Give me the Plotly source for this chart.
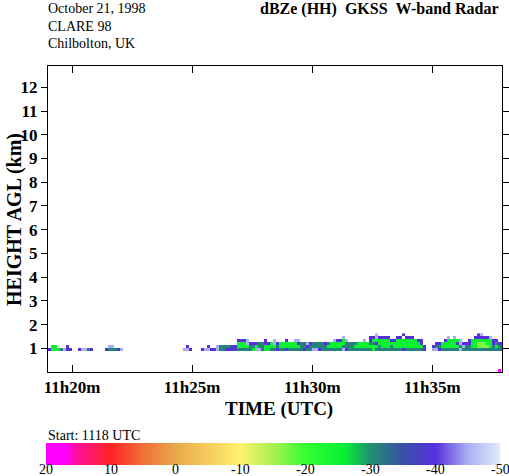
import numpy as np
import plotly.graph_objects as go

# ---------------- data ----------------
start_min = 19.0        # minutes after 11h00 of first time bin
step_min = 0.125        # time bin width (min)
n_cols = 152
height_step = 0.125     # km per range gate row

# code -> dBZe
code_values = {"L": -45, "V": -40, "B": -37, "T": -31, "G": -25, "Y": -17, "M": 20}

row_surface = ["          "] * 15 + ["M "]                        # 0.000-0.125 km
row_r0 = ["VGGGTLVV  ", "VLLTV    V", "TTTVL     ", "          ", "     LLV  ",
          " VLLVVLTTV", "VVBTTTTTGL", "LTGGTTVTTV", "TTTTTVTTLL", "VTTTTTTTLV",
          "TTTTTTTTGT", "TTTTTTTTVT", "TTTTTV  LL", "VTTTTTTLTT", "TTTTTTTTTT", "TV"]
row_r1 = [" GG   V   ", "          ", "LL        ", "          ", "      V   ",
          "   V  LTTT", "TVVGGGGTTG", "TTGGGGTGGG", "GGGGTTVTTT", "TTTGGGGGTT",
          "TTGGGGGGGG", "TGGGTGGGGG", "GGGGGV  VT", "TGGGGGGTLT", "TGGYYYYGTG", "TT"]
row_r2 = ["          "] * 6 + ["   GGGLVVV", "TTVVGLVGGG", "GGGVTTLVTT", "TTVTGGGGGT",
          "TTTGGGGTTV", "GGGGGGGGGG", "GGGGV    V", "VGGGGGVLVV", "VGGYYYGGVT", "VV"]
row_r3 = ["          "] * 6 + ["   VVVL   ", "  V  L   V", "  LL      ", "     LVVGL",
          "     L VGG", "GGGGVVGGGG", "GGGVV     ", "  VGGGGL  ", "VGGGGGGGVV", "  "]
row_r4 = ["          "] * 9 + ["        L ", "       VVL", "VVVV  VV V", "VV        ",
          "   L L    ", "  VVVVVL  ", "  "]
row_r5 = ["          "] * 10 + ["         L", "        V ", "          ", "          ",
          "   VL     ", "  "]

# rows from ground upward (index = gate number); empty gates between
gate_rows = {0: row_surface, 7: row_r0, 8: row_r1, 9: row_r2, 10: row_r3, 11: row_r4, 12: row_r5}
n_gates = 13

time_tickvals = [20, 25, 30, 35]
time_ticktext = ["11h20m", "11h25m", "11h30m", "11h35m"]
height_tickvals = list(range(1, 13))
cbar_tickvals = [20, 10, 0, -10, -20, -30, -40, -50]

# colour table of the radar palette (dBZe -> colour)
palette = [(-50, "#E2EAFB"), (-45, "#A8B0F2"), (-40, "#5530DC"), (-35, "#3A4FA8"),
           (-30, "#209070"), (-26, "#05EE35"), (-20, "#35FF30"), (-15, "#A8F052"),
           (-10, "#FFF26E"), (-5, "#F5CC5C"), (0, "#E9A94A"), (5, "#F07038"),
           (10, "#FF2424"), (15, "#FF1090"), (17, "#FF00FF"), (20, "#FF00FF")]
zmin, zmax = -50, 20

# ---------------- build grid ----------------
def row_to_values(chunks):
    s = "".join(c for c in chunks).ljust(n_cols)[:n_cols]
    return [code_values.get(ch, np.nan) for ch in s]

z = np.full((n_gates, n_cols), np.nan)
for g, chunks in gate_rows.items():
    z[g, :] = row_to_values(chunks)

x_centers = start_min + step_min * (np.arange(n_cols) + 0.5)
y_centers = height_step * (np.arange(n_gates) + 0.5)

colorscale = [[(v - zmin) / (zmax - zmin), c] for v, c in palette]

W, H = 509, 476
FONT = "Liberation Serif"
NB = "\u00a0"

fig = go.Figure()
fig.add_trace(go.Heatmap(x=x_centers, y=y_centers, z=z, colorscale=colorscale,
                         zmin=zmin, zmax=zmax, showscale=False, hoverongaps=False))

# colour bar drawn as its own strip
cb_x = np.linspace(zmin, zmax, 281)
fig.add_trace(go.Heatmap(x=cb_x, y=[0], z=[cb_x], colorscale=colorscale, zmin=zmin,
                         zmax=zmax, showscale=False, xaxis="x2", yaxis="y2"))

axis_common = dict(showgrid=False, zeroline=False, showline=True, linecolor="black",
                   linewidth=1, tickcolor="black", tickwidth=1, mirror="ticks")

fig.update_layout(
    width=W, height=H,
    margin=dict(l=0, r=0, t=0, b=0, autoexpand=False),
    paper_bgcolor="white", plot_bgcolor="white",
    showlegend=False,
    xaxis=dict(domain=[48 / W, 502 / W], range=[19.0, 37.9], tickvals=time_tickvals,
               ticktext=time_ticktext, ticks="inside", ticklen=7,
               tickfont=dict(family=FONT, size=17, color="black", weight="bold"),
               anchor="y", **axis_common),
    yaxis=dict(domain=[104 / H, 410 / H], range=[0, 12.9], tickvals=height_tickvals,
               ticks="outside", ticklen=6,
               tickfont=dict(family=FONT, size=17, color="black", weight="bold"),
               anchor="x", **axis_common),
    xaxis2=dict(domain=[46 / W, 500 / W], range=[zmax, zmin], anchor="y2",
                showticklabels=False, ticks="", showline=False, showgrid=False,
                zeroline=False),
    yaxis2=dict(domain=[11 / H, 33 / H], range=[-0.5, 0.5], visible=False, anchor="x2"),
)

# colour-bar labels placed on the colour-bar axis scale
for v in cbar_tickvals:
    fig.add_annotation(text=str(v), x=v, xref="x2", y=0, yref="paper", yanchor="bottom",
                       xanchor="center", showarrow=False, borderpad=0, yshift=-2,
                       font=dict(family=FONT, size=14, color="black"))

def ann(text, x, y, size, bold=False, xanchor="left", angle=0):
    fig.add_annotation(text=text, x=x / W, y=1 - y / H, xref="paper", yref="paper",
                       showarrow=False, xanchor=xanchor, yanchor="middle", textangle=angle,
                       font=dict(family=FONT, size=size, color="black",
                                 weight="bold" if bold else "normal"))

ann("October 21, 1998", 46, 8.5, 14)
ann("CLARE 98", 46, 26, 14)
ann("Chilbolton, UK", 46, 43.5, 14)
ann("dBZe (HH)" + NB * 2 + "GKSS" + NB * 2 + "W-band Radar", 501, 8.5, 16, bold=True, xanchor="right")
ann("TIME (UTC)", 279, 409, 19, bold=True, xanchor="center")
ann("HEIGHT AGL (km)", 14, 220, 20, bold=True, xanchor="center", angle=-90)
ann("Start: 1118 UTC", 46, 435.5, 14)

fig.write_html("out.html", config={"displayModeBar": False},
               post_script="document.body.style.margin='0';document.body.style.overflow='hidden';")
